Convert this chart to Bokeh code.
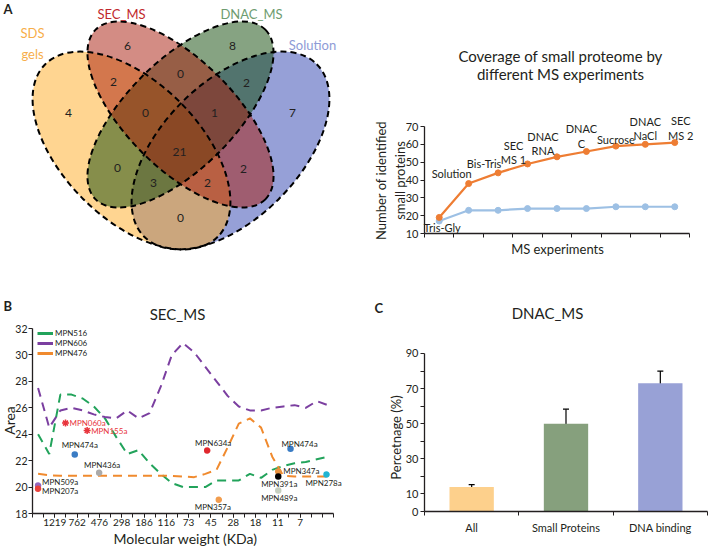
import math
from bokeh.plotting import figure
from bokeh.models import (Range1d, FixedTicker, Legend, LegendItem,
                          Whisker, TeeHead, ColumnDataSource)
from bokeh.layouts import row, column
from bokeh.embed import file_html
from bokeh.resources import INLINE
from bokeh.core.properties import value

FONT = "Lato"
INK = "#231F20"

# ======================= DATA =======================
# Panel A - Venn diagram (4 sets)
venn_set_names = ["SDS\ngels", "SEC_MS", "DNAC_MS", "Solution"]
venn_region_names = ["SDS", "SEC", "DNAC", "SOL", "SDS&SEC", "SEC&DNAC", "DNAC&SOL",
                     "SDS&SEC&DNAC", "SEC&DNAC&SOL", "ALL", "SDS&DNAC", "SEC&SOL",
                     "SDS&DNAC&SOL", "SDS&SEC&SOL", "SDS&SOL"]
venn_region_counts = [4, 6, 8, 7, 2, 0, 2, 0, 1, 21, 0, 2, 3, 2, 0]

# Panel A - coverage by MS experiments
ms_experiments = ["Tris-Gly", "Solution", "Bis-Tris", "SEC\nMS 1", "DNAC\nRNA",
                  "DNAC\nC", "Sucrose", "DNAC\nNaCl", "SEC\nMS 2"]
identified_total = [19, 38, 44, 49, 53, 56, 59, 60, 61]
identified_other = [17, 23, 23, 24, 24, 24, 25, 25, 25]

# Panel B - SEC_MS elution profiles
fraction = [0.5, 1.5, 2.5, 3.5, 4.5, 5.5, 6.5, 7.5, 8.5, 9.5, 10.5, 11.5, 12.5, 13.5,
            14.5, 15.5, 16.5, 17.5, 18.5, 19.5, 20.5, 21.5, 22.5, 23.5, 24.5, 25.5, 26.5]
area_mpn516 = [24.0, 22.5, 27.0, 27.0, 26.7, 26.1, 25.2, 23.8, 22.5, 22.8, 21.8, 21.0, 20.3,
               20.0, 20.0, 20.0, 20.5, 20.5, 20.5, 21.0, 20.7, 21.3, 21.6, 21.8, 21.9, 22.1, 22.3]
area_mpn606 = [27.5, 24.5, 25.8, 26.0, 25.8, 25.5, 25.3, 25.2, 25.8, 25.2, 25.6, 27.6, 30.0,
               30.9, 30.2, 29.1, 28.0, 26.9, 26.1, 25.8, 25.8, 26.0, 26.1, 26.2, 26.0, 26.5, 26.2]
area_mpn476 = [21.0, 20.9, 20.85, 20.85, 20.85, 20.85, 20.85, 20.85, 20.85, 20.85, 20.85, 20.85,
               20.85, 20.8, 20.75, 21.0, 21.3, 23.0, 24.8, 25.2, 24.5, 22.3, 20.85, 20.8, 20.8,
               20.8, 20.8]
series_names = ["MPN516", "MPN606", "MPN476"]
mw_labels = ["1219", "762", "476", "298", "186", "116", "73", "45", "28", "18", "11", "7"]
mw_label_fraction = [2, 4, 6, 8, 10, 12, 14, 16, 18, 20, 22, 24]

spot_names = ["MPN509a", "MPN207a", "MPN474a", "MPN436a", "MPN060a", "MPN155a", "MPN634a",
              "MPN357a", "MPN474a", "MPN347a", "MPN391a", "MPN489a", "MPN278a"]
spot_fraction = [0.5, 0.5, 3.79, 5.98, 2.96, 4.9, 15.67, 16.71, 23.14, 22.04, 22.04, 22.04, 26.37]
spot_area = [20.12, 19.87, 22.47, 21.08, 24.84, 24.28, 22.77, 19.04, 22.9, 21.18, 20.8, 19.74, 20.95]

# Panel C - DNAC_MS
groups = ["All", "Small Proteins", "DNA binding"]
percentage = [14, 50, 73]
percentage_err = [1.3, 8.3, 7.0]

# ======================= STYLE / LAYOUT =======================
def frame_fig(left, top, width, height, xv, xpx, xppu, yv, ypx, yppu):
    """Figure whose frame fills the whole canvas; returns pixel->data helpers."""
    def fx(px):
        return xv + (px - xpx) / xppu

    def fy(py):
        return yv - (py - ypx) / yppu

    p = figure(width=width, height=height,
               x_range=Range1d(fx(left), fx(left + width)),
               y_range=Range1d(fy(top + height), fy(top)),
               output_backend="svg", toolbar_location=None,
               min_border=0, min_border_left=0, min_border_right=0,
               min_border_top=0, min_border_bottom=0,
               background_fill_color="white", border_fill_color="white")
    p.outline_line_color = None
    p.grid.visible = False
    return p, fx, fy


def style_axis(ax, size="11px", standoff=2):
    ax.axis_line_color = INK
    ax.axis_line_width = 1.3
    ax.major_tick_line_color = INK
    ax.minor_tick_line_color = INK
    ax.major_tick_in = 0
    ax.minor_tick_in = 0
    ax.major_tick_out = 4
    ax.minor_tick_out = 0
    ax.major_label_text_font = FONT
    ax.major_label_text_font_size = size
    ax.major_label_text_color = INK
    ax.major_label_standoff = standoff
    ax.axis_label = None


def put(p, fx, fy, px, py, text, size, color=INK, align="center", angle=0.0,
        style="normal"):
    p.text(x=[fx(px)], y=[fy(py)], text=[text], angle=angle, text_align=align,
           text_baseline="middle", text_font=value(FONT), text_font_size=value(size),
           text_color=color, text_font_style=style)

# ---------- Panel A: Venn (data space = page pixels) ----------
pA, ax_, ay_ = frame_fig(0, 0, 355, 293, 0, 0, 1, 0, 0, -1)
pA.axis.visible = False
# ellipse layout, drawing order: Solution, SDS, DNAC, SEC
ell_x = [230, 131, 180, 180]
ell_y = [150, 150, 114, 114]
ell_w = [244, 244, 240, 240]
ell_h = [137, 137, 108, 108]
ell_a = [math.pi / 4, -math.pi / 4, math.pi / 4, -math.pi / 4]
ell_c = ["#2D41AF", "#FFAB23", "#0E4806", "#A8190A"]
esrc = ColumnDataSource(dict(x=ell_x, y=ell_y, w=ell_w, h=ell_h, a=ell_a, c=ell_c))
pA.ellipse(x="x", y="y", width="w", height="h", angle="a", source=esrc,
           fill_color="c", fill_alpha=0.5, line_color=None)
pA.ellipse(x="x", y="y", width="w", height="h", angle="a", source=esrc,
           fill_color=None, line_color="black", line_width=2, line_dash="6 4")

region_x = [68, 127, 232, 292, 113, 180, 246, 145, 214, 179, 117, 243, 153, 207, 180]
region_y = [112, 45, 45, 112, 81, 73, 82, 112, 112, 151, 167, 168, 182, 182, 217]
rsrc = ColumnDataSource(dict(x=region_x, y=region_y,
                             text=[str(v) for v in venn_region_counts]))
pA.text(x="x", y="y", text="text", source=rsrc, text_font=value(FONT),
        text_font_size=value("12px"), text_color=INK, text_align="center",
        text_baseline="middle")

set_x = [32, 121, 251, 312]
set_y = [43, 13, 13, 44]
set_color = ["#F7AE4A", "#C1272D", "#6E9C70", "#8E9BD6"]
ssrc = ColumnDataSource(dict(x=set_x, y=set_y, text=venn_set_names, tcolor=set_color))
pA.text(x="x", y="y", text="text", source=ssrc, text_font=value(FONT),
        text_font_size=value("13px"), text_color="tcolor", text_align="center",
        text_baseline="middle", text_line_height=1.3)
put(pA, ax_, ay_, 3, 8, "A", "13px", align="left", style="bold")

# ---------- Panel A: coverage line chart ----------
pL, lx, ly = frame_fig(355, 0, 354, 293, 0, 424, 29.44, 10, 233, 1.7833)
style_axis(pL.yaxis[0])
pL.yaxis.ticker = FixedTicker(ticks=[10, 20, 30, 40, 50, 60, 70])
pL.yaxis.bounds = (10, 70)
pL.yaxis.fixed_location = 0
style_axis(pL.xaxis[0])
pL.xaxis.ticker = FixedTicker(ticks=[], minor_ticks=list(range(10)))
pL.xaxis.minor_tick_out = 4
pL.xaxis.bounds = (0, 9)
pL.xaxis.fixed_location = 10

xpos = [i + 0.5 for i in range(len(ms_experiments))]
lsrc = ColumnDataSource(dict(x=xpos, total=identified_total, other=identified_other,
                             text=ms_experiments,
                             dx=[3, -17, -14, -14, -14, -5, 0, 0, 6],
                             dy=[10, -10, -9, -11.5, -13, -15.5, -7, -16, -14.5]))
pL.line(x="x", y="other", source=lsrc, line_color="#9DC0E4", line_width=2.2)
pL.scatter(x="x", y="other", source=lsrc, size=6, fill_color="#9DC0E4", line_color="#9DC0E4")
pL.line(x="x", y="total", source=lsrc, line_color="#EE7D33", line_width=2.2)
pL.scatter(x="x", y="total", source=lsrc, size=6, fill_color="#EE7D33", line_color="#EE7D33")
pL.text(x="x", y="total", text="text", source=lsrc, x_offset="dx", y_offset="dy",
        text_font=value(FONT), text_font_size=value("11px"), text_color=INK,
        text_align="center", text_baseline="middle", text_line_height=1.1)
put(pL, lx, ly, 560, 55, "Coverage of small proteome by", "15px")
put(pL, lx, ly, 560, 73, "different MS experiments", "15px")
put(pL, lx, ly, 380, 180, "Number of identified", "13px", angle=math.pi / 2)
put(pL, lx, ly, 399, 180, "small proteins", "13px", angle=math.pi / 2)
put(pL, lx, ly, 557, 248, "MS experiments", "13px")

# ---------- Panel B: SEC_MS ----------
pB, bx, by = frame_fig(0, 293, 355, 253, 0, 32, 11.15, 18, 513, 13.214)
style_axis(pB.yaxis[0], size="10.5px", standoff=1)
pB.yaxis.ticker = FixedTicker(ticks=[18, 20, 22, 24, 26, 28, 30, 32])
pB.yaxis.bounds = (18, 32)
pB.yaxis.fixed_location = 0
style_axis(pB.xaxis[0], size="10px", standoff=1)
pB.xaxis.ticker = FixedTicker(ticks=mw_label_fraction, minor_ticks=list(range(28)))
pB.xaxis.minor_tick_out = 4
pB.xaxis.bounds = (0, 27)
pB.xaxis.fixed_location = 18
pB.xaxis.major_label_overrides = {f: lab for f, lab in zip(mw_label_fraction, mw_labels)}

bsrc = ColumnDataSource(dict(x=fraction, g=area_mpn516, p=area_mpn606, o=area_mpn476))
line_cols = ["#22A35B", "#7B3FA0", "#F08A2E"]
for col, c in zip(["g", "p", "o"], line_cols):
    pB.line(x="x", y=col, source=bsrc, line_color=c, line_width=2, line_dash="9 6")
legend_items = []
for name, c in zip(series_names, line_cols):
    r = pB.line(x=[float("nan")], y=[float("nan")], line_color=c, line_width=3)
    legend_items.append(LegendItem(label=name, renderers=[r]))
leg = Legend(items=legend_items, location=(37, 188), label_text_font=FONT,
             label_text_font_size="8px", label_text_color=INK, label_height=10,
             glyph_height=10, glyph_width=16, spacing=0, padding=0, margin=0,
             label_standoff=2, border_line_color=None, background_fill_alpha=0)
pB.add_layout(leg)

spot_color = ["#9467BD", "#E8413C", "#3A7CC4", "#AAAAAA", "#E8343C", "#E8343C", "#E0282E",
              "#F29D4E", "#3A7CC4", "#E8913F", "#000000", "#C5CFC0", "#20B4D2"]
spot_marker = ["circle", "circle", "circle", "circle", "asterisk", "asterisk", "circle",
               "circle", "circle", "circle", "circle", "circle", "circle"]
spot_size = [5, 5, 5, 5, 7, 7, 5, 5, 5, 5, 5, 5, 5]
spot_dx = [4, 4, 5, 3, 4, 4, 6, -6, 9, 5, 1, 1, -3]
spot_dy = [-3, 2, -9, -8, 0, 0, -7, 7, -5, 0, 7, 7, 8]
spot_align = ["left", "left", "center", "center", "left", "left", "center", "center",
              "center", "left", "center", "center", "center"]
spot_tcolor = [INK, INK, INK, INK, "#E8343C", "#E8343C", INK, INK, INK, INK, INK, INK, INK]
spsrc = ColumnDataSource(dict(x=spot_fraction, y=spot_area, text=spot_names, c=spot_color,
                              m=spot_marker, s=spot_size, dx=spot_dx, dy=spot_dy,
                              al=spot_align, tc=spot_tcolor))
pB.scatter(x="x", y="y", source=spsrc, marker="m", size="s", fill_color="c",
           line_color="c", line_width=1.5)
pB.text(x="x", y="y", text="text", source=spsrc, x_offset="dx", y_offset="dy",
        text_align="al", text_color="tc", text_font=value(FONT),
        text_font_size=value("8px"), text_baseline="middle")
put(pB, bx, by, 3, 305, "B", "13px", align="left", style="bold")
put(pB, bx, by, 177, 313, "SEC_MS", "15px")
put(pB, bx, by, 9, 420, "Area", "14px", angle=math.pi / 2)
put(pB, bx, by, 185, 538, "Molecular weight (KDa)", "14px")

# ---------- Panel C: DNAC_MS ----------
pC, cx, cy = frame_fig(355, 293, 354, 253, -0.5, 424, 94.33, 0, 511, 1.7556)
style_axis(pC.yaxis[0])
pC.yaxis.ticker = FixedTicker(ticks=[0, 10, 30, 50, 70, 90], minor_ticks=[20, 40, 60, 80])
pC.yaxis.minor_tick_out = 4
pC.yaxis.bounds = (0, 90)
pC.yaxis.fixed_location = -0.5
style_axis(pC.xaxis[0], standoff=5)
pC.xaxis.ticker = FixedTicker(ticks=[0, 1, 2], minor_ticks=[-0.5, 0.5, 1.5, 2.5])
pC.xaxis.major_tick_out = 0
pC.xaxis.minor_tick_out = 4
pC.xaxis.bounds = (-0.5, 2.5)
pC.xaxis.fixed_location = 0
pC.xaxis.major_label_overrides = {i: g for i, g in enumerate(groups)}

csrc = ColumnDataSource(dict(x=list(range(len(groups))), top=percentage,
                             upper=[v + e for v, e in zip(percentage, percentage_err)],
                             lower=[v - e for v, e in zip(percentage, percentage_err)],
                             c=["#FDD08C", "#86A07D", "#98A1D6"]))
pC.vbar(x="x", top="top", width=0.47, source=csrc, fill_color="c", line_color=None)
pC.add_layout(Whisker(source=csrc, base="x", upper="upper", lower="lower",
                      line_color="black", line_width=1.2,
                      upper_head=TeeHead(size=6, line_color="black", line_width=1.2),
                      lower_head=TeeHead(size=6, line_color="black", line_width=1.2)))
put(pC, cx, cy, 374, 307, "C", "13px", align="left", style="bold")
put(pC, cx, cy, 547, 312, "DNAC_MS", "15px")
put(pC, cx, cy, 395, 437, "Percetnage (%)", "13px", angle=math.pi / 2)

layout = column(row(pA, pL, spacing=0), row(pB, pC, spacing=0), spacing=0)
open("out.html", "w").write(file_html(layout, INLINE))
